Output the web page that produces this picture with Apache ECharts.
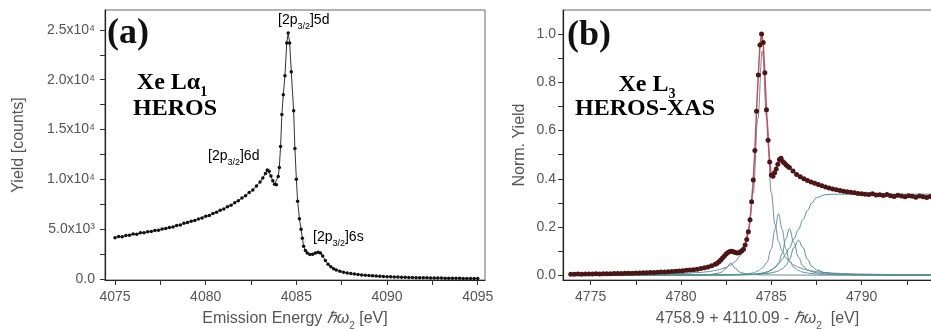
<!DOCTYPE html>
<html>
<head>
<meta charset="utf-8">
<script src="https://cdn.jsdelivr.net/npm/echarts@6.0.0/dist/echarts.min.js"></script>
<style>html,body{margin:0;padding:0;background:#fff;}#c{width:931px;height:329px;}</style>
</head>
<body>
<div id="c"></div>
<script>
// ---------- Panel (a): Xe L-alpha1 HEROS emission ----------
const aE = [4075.0,4075.2,4075.4,4075.6,4075.8,4076.0,4076.2,4076.4,4076.6,4076.8,4077.0,4077.2,4077.4,4077.6,4077.8,4078.0,4078.2,4078.4,4078.6,4078.8,4079.0,4079.2,4079.4,4079.6,4079.8,4080.0,4080.2,4080.4,4080.6,4080.8,4081.0,4081.2,4081.4,4081.6,4081.8,4082.0,4082.2,4082.4,4082.6,4082.8,4083.0,4083.15,4083.3,4083.4,4083.5,4083.6,4083.7,4083.8,4083.9,4084.0,4084.06,4084.13,4084.2,4084.28,4084.37,4084.47,4084.55,4084.63,4084.72,4084.85,4084.92,4085.0,4085.07,4085.17,4085.26,4085.33,4085.4,4085.5,4085.6,4085.75,4085.9,4086.05,4086.2,4086.33,4086.45,4086.6,4086.75,4086.9,4087.05,4087.2,4087.4,4087.6,4087.8,4088.0,4088.2,4088.4,4088.6,4088.8,4089.0,4089.2,4089.4,4089.6,4089.8,4090.0,4090.2,4090.4,4090.6,4090.8,4091.0,4091.2,4091.4,4091.6,4091.8,4092.0,4092.2,4092.4,4092.6,4092.8,4093.0,4093.2,4093.4,4093.6,4093.8,4094.0,4094.2,4094.4,4094.6,4094.8,4095.0];
const aY = [4150,4260,4230,4370,4400,4520,4500,4630,4640,4740,4780,4880,4900,5020,5060,5170,5230,5360,5430,5590,5660,5800,5880,6030,6130,6300,6380,6580,6700,6900,7030,7260,7400,7660,7860,8140,8360,8670,8940,9340,9730,10150,10600,10950,10820,10350,9850,9500,9450,10300,11200,13300,16500,18500,20400,23700,24700,23700,20800,16900,13100,10000,7800,6050,5000,4100,3300,2850,2600,2450,2480,2600,2680,2620,2300,1850,1480,1230,1040,900,770,670,600,540,490,450,410,370,340,315,290,275,255,235,220,205,190,178,165,155,147,138,130,122,115,108,102,96,90,85,80,75,70,65,60,56,52,48,45];
const aXTicks = [4075,4077.5,4080,4082.5,4085,4087.5,4090,4092.5,4095];
const aXLabels = [4075,4080,4085,4090,4095];
const aYTicks = [0,2500,5000,7500,10000,12500,15000,17500,20000,22500,25000];
const aYLabels = [0,5000,10000,15000,20000,25000];
const aYLabelText = ['0.0','5.0x10³','1.0x10⁴','1.5x10⁴','2.0x10⁴','2.5x10⁴'];

// ---------- Panel (b): Xe L3 HEROS-XAS ----------
const bE = [4773.9,4774.1,4774.3,4774.5,4774.7,4774.9,4775.1,4775.3,4775.5,4775.7,4775.9,4776.1,4776.3,4776.5,4776.7,4776.9,4777.1,4777.3,4777.5,4777.7,4777.9,4778.1,4778.3,4778.5,4778.7,4778.9,4779.1,4779.3,4779.5,4779.7,4779.9,4780.1,4780.3,4780.5,4780.7,4780.9,4781.1,4781.3,4781.5,4781.7,4781.9,4782.0,4782.1,4782.2,4782.3,4782.4,4782.5,4782.6,4782.7,4782.8,4782.9,4783.0,4783.1,4783.2,4783.3,4783.37,4783.46,4783.55,4783.64,4783.73,4783.82,4783.91,4784.0,4784.09,4784.18,4784.28,4784.37,4784.46,4784.55,4784.64,4784.73,4784.82,4784.91,4785.0,4785.09,4785.18,4785.27,4785.36,4785.45,4785.54,4785.63,4785.72,4785.81,4785.9,4786.0,4786.2,4786.4,4786.6,4786.8,4787.0,4787.2,4787.4,4787.6,4787.8,4788.0,4788.2,4788.4,4788.6,4788.8,4789.0,4789.2,4789.4,4789.6,4789.8,4790.0,4790.2,4790.4,4790.6,4790.8,4791.0,4791.2,4791.4,4791.6,4791.8,4792.0,4792.2,4792.4,4792.6,4792.8,4793.0,4793.2,4793.4,4793.6,4793.8,4794.0];
const bY = [0.004,0.004,0.005,0.004,0.005,0.005,0.005,0.006,0.005,0.006,0.006,0.006,0.007,0.007,0.007,0.008,0.008,0.008,0.009,0.009,0.010,0.010,0.011,0.011,0.012,0.013,0.013,0.014,0.015,0.016,0.017,0.018,0.020,0.021,0.023,0.025,0.028,0.031,0.034,0.039,0.045,0.050,0.056,0.063,0.071,0.080,0.088,0.094,0.098,0.099,0.097,0.094,0.092,0.093,0.097,0.101,0.108,0.125,0.148,0.180,0.230,0.305,0.395,0.517,0.680,0.830,0.955,1.000,0.965,0.840,0.686,0.560,0.470,0.416,0.410,0.425,0.440,0.460,0.480,0.485,0.472,0.465,0.458,0.452,0.447,0.432,0.418,0.408,0.400,0.393,0.387,0.381,0.376,0.371,0.366,0.362,0.358,0.354,0.351,0.348,0.346,0.344,0.342,0.339,0.338,0.336,0.335,0.338,0.333,0.334,0.331,0.335,0.329,0.326,0.332,0.328,0.325,0.330,0.327,0.323,0.328,0.325,0.322,0.326,0.324];
// fit components
const cE = [4774,4778,4780,4781,4781.5,4782,4782.25,4782.5,4782.75,4783,4783.25,4783.5,4783.75,4784,4784.25,4784.5,4784.75,4785,4785.2,4785.4,4785.6,4785.8,4786,4786.25,4786.5,4786.75,4787,4787.25,4787.5,4788,4788.5,4789,4790,4792,4795];
const comp1 = [0.0001,0.0002,0.0006,0.0014,0.0027,0.0069,0.013,0.029,0.050,0.029,0.013,0.0069,0.0042,0.0027,0.0019,0.0014,0.0011,0.0009,0.0008,0.0007,0.0006,0.0005,0.0005,0.0004,0.0004,0.0003,0.0003,0.0003,0.0002,0.0002,0.0002,0.0002,0.0001,0.0001,0.0001];
const comp2 = [0.0012,0.0032,0.0066,0.0108,0.0144,0.021,0.0264,0.0326,0.0419,0.0562,0.0789,0.1178,0.193,0.341,0.648,0.930,0.648,0.341,0.212,0.141,0.100,0.0734,0.0562,0.0419,0.0326,0.0264,0.021,0.0178,0.0144,0.0108,0.0083,0.0066,0.0044,0.0024,0.0012];
const comp3 = [0.0002,0.0005,0.0008,0.001,0.0012,0.0015,0.0018,0.0021,0.0025,0.003,0.0037,0.0048,0.0066,0.0095,0.017,0.030,0.052,0.110,0.190,0.255,0.190,0.110,0.060,0.032,0.019,0.0125,0.0088,0.0066,0.005,0.0033,0.0023,0.0017,0.001,0.0005,0.0002];
const comp4 = [0.0001,0.0002,0.0005,0.0008,0.0009,0.0012,0.0013,0.0015,0.0018,0.0021,0.0025,0.003,0.0038,0.0047,0.0065,0.009,0.013,0.020,0.031,0.050,0.090,0.150,0.193,0.135,0.075,0.038,0.022,0.0145,0.010,0.0055,0.0034,0.0023,0.0013,0.0005,0.0002];
const comp5 = [0.0001,0.0003,0.0005,0.0007,0.0009,0.0011,0.0012,0.0013,0.0015,0.0017,0.002,0.0023,0.0027,0.0032,0.0042,0.0055,0.0072,0.0097,0.013,0.018,0.026,0.040,0.065,0.115,0.145,0.115,0.065,0.036,0.022,0.010,0.0055,0.0036,0.0018,0.0007,0.0003];
const stepC = [0,0,0,0,0,0.0002,0.0003,0.0004,0.0005,0.0007,0.0009,0.0012,0.0016,0.0022,0.004,0.007,0.013,0.022,0.033,0.047,0.065,0.088,0.113,0.150,0.190,0.230,0.268,0.300,0.322,0.334,0.336,0.336,0.336,0.336,0.336];
const bXTicks = [4775,4777.5,4780,4782.5,4785,4787.5,4790,4792.5,4795];
const bXLabels = [4775,4780,4785,4790,4795];
const bYTicks = [0,0.1,0.2,0.3,0.4,0.5,0.6,0.7,0.8,0.9,1.0];
const bYLabels = [0,0.2,0.4,0.6,0.8,1.0];

const pairs = (xs, ys) => xs.map((x, i) => [x, ys[i]]);
const FONT = 'Liberation Sans';
const SERIF = 'Liberation Serif';
const labelColor = '#555';
const subRich = {
  n: { fontFamily: FONT, fontSize: 16, color: labelColor, lineHeight: 18, verticalAlign: 'top' },
  i: { fontFamily: FONT, fontSize: 16, color: labelColor, lineHeight: 18, verticalAlign: 'top', fontStyle: 'italic' },
  s: { fontFamily: FONT, fontSize: 10, color: labelColor, lineHeight: 10, verticalAlign: 'top', padding: [10, 0, 0, 0] }
};

function xAxisDef(idx, min, max, ticks, labels, name) {
  return {
    type: 'value', gridIndex: idx, min: min, max: max,
    axisLine: { show: true, onZero: false, lineStyle: { color: '#222', width: 1.2 } },
    axisTick: { show: true, inside: false, length: 5, customValues: ticks, lineStyle: { color: '#333' } },
    axisLabel: { customValues: labels, margin: 10, fontFamily: FONT, fontSize: 14, color: labelColor, formatter: v => String(v) },
    splitLine: { show: false },
    name: name, nameLocation: 'middle', nameGap: 31, nameTextStyle: { rich: subRich }
  };
}
function yAxisDef(idx, min, max, ticks, labels, fmt, name, gap, margin) {
  return {
    type: 'value', gridIndex: idx, min: min, max: max,
    axisLine: { show: true, onZero: false, lineStyle: { color: '#222', width: 1.2 } },
    axisTick: { show: true, inside: false, length: 5, customValues: ticks, lineStyle: { color: '#333' } },
    axisLabel: { customValues: labels, margin: margin, fontFamily: FONT, fontSize: 14, color: labelColor, formatter: fmt },
    splitLine: { show: false },
    name: name, nameLocation: 'middle', nameGap: gap, nameRotate: 90,
    nameTextStyle: { fontFamily: FONT, fontSize: 16, color: labelColor }
  };
}

const compColors = ['#5d87a6', '#6b8ba6', '#6a8fa6', '#5d8f99', '#4f8d8c', '#4f968f'];
const compData = [comp1, comp2, comp3, comp4, comp5, stepC];

const series = [
  {
    type: 'line', xAxisIndex: 0, yAxisIndex: 0, data: pairs(aE, aY),
    symbol: 'circle', symbolSize: 3.5, showSymbol: true,
    lineStyle: { color: '#333', width: 1 }, itemStyle: { color: '#111' }, z: 3
  }
];
compData.forEach((arr, k) => {
  series.push({
    type: 'line', xAxisIndex: 1, yAxisIndex: 1, data: pairs(cE, arr),
    symbol: 'none', smooth: 0.4, smoothMonotone: 'x',
    lineStyle: { color: compColors[k], width: 1 }, z: 2
  });
});
series.push({
  type: 'line', xAxisIndex: 1, yAxisIndex: 1, data: pairs(bE, bY),
  symbol: 'circle', symbolSize: 5, showSymbol: true,
  lineStyle: { color: '#c4505e', width: 1.5 }, itemStyle: { color: '#4d1515' }, z: 4
});

function subText(main, sub, tail, x, y) {
  return {
    type: 'text', left: x, top: y, z: 10,
    style: {
      text: '{m|' + main + '}{s|' + sub + '}{m|' + tail + '}',
      rich: {
        m: { fontFamily: FONT, fontSize: 14, color: labelColor, lineHeight: 16, verticalAlign: 'top' },
        s: { fontFamily: FONT, fontSize: 9, color: labelColor, lineHeight: 9, verticalAlign: 'top', padding: [9, 0, 0, 0] }
      }
    }
  };
}
function serifText(txt, sub, cx, cy, size) {
  return {
    type: 'text', x: cx, y: cy, z: 10,
    style: {
      text: sub ? '{m|' + txt + '}{s|' + sub + '}' : '{m|' + txt + '}',
      align: 'center', verticalAlign: 'middle',
      rich: {
        m: { fontFamily: SERIF, fontWeight: 'bold', fontSize: size, color: '#111', lineHeight: size + 2, verticalAlign: 'top' },
        s: { fontFamily: SERIF, fontWeight: 'bold', fontSize: Math.round(size * 0.6), color: '#111', lineHeight: 10, verticalAlign: 'top', padding: [size - 10, 0, 0, 0] }
      }
    }
  };
}

const chart = echarts.init(document.getElementById('c'), null, { renderer: 'canvas' });
chart.setOption({
  animation: false,
  backgroundColor: '#fff',
  grid: [
    { left: 105, top: 10, width: 380, height: 270, show: true, borderColor: '#666', borderWidth: 1, containLabel: false, outerBoundsMode: 'none' },
    { left: 563, top: 10, width: 389, height: 270, show: true, borderColor: '#666', borderWidth: 1, containLabel: false, outerBoundsMode: 'none' }
  ],
  xAxis: [
    xAxisDef(0, 4074.45, 4095.4, aXTicks, aXLabels, '{n|Emission Energy }{i|ℏω}{s|2}{n| [eV]}'),
    xAxisDef(1, 4773.47, 4795, bXTicks, bXLabels, '{n|4758.9 + 4110.09 - }{i|ℏω}{s|2}{n|  [eV]}')
  ],
  yAxis: [
    yAxisDef(0, -100, 27000, aYTicks, aYLabels, v => aYLabelText[aYLabels.indexOf(v)] || '', 'Yield [counts]', 78, 10),
    yAxisDef(1, -0.02, 1.1, bYTicks, bYLabels, v => v.toFixed(1), 'Norm. Yield', 35, 7)
  ],
  series: series,
  graphic: [
    { type: 'text', left: 107, top: 16, z: 10, style: { text: '(a)', fontFamily: SERIF, fontWeight: 'bold', fontSize: 36, fill: '#111' } },
    serifText('Xe Lα', '1', 172, 84, 24),
    serifText('HEROS', '', 175, 110, 24),
    { type: 'text', left: 567, top: 18, z: 10, style: { text: '(b)', fontFamily: SERIF, fontWeight: 'bold', fontSize: 36, fill: '#111' } },
    serifText('Xe L', '3', 647, 86, 24),
    serifText('HEROS-XAS', '', 645, 110, 24),
    subText('[2p', '3/2', ']5d', 278, 13),
    subText('[2p', '3/2', ']6d', 208, 149),
    subText('[2p', '3/2', ']6s', 313, 230)
  ]
});
</script>
</body>
</html>
